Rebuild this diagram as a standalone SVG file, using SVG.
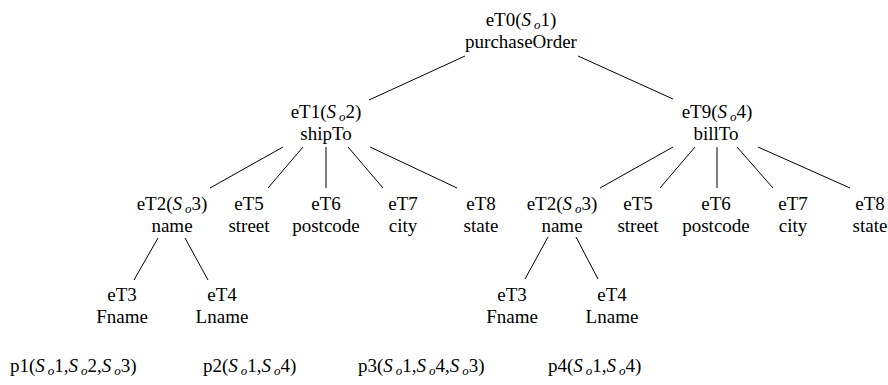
<svg xmlns="http://www.w3.org/2000/svg" width="888" height="385" viewBox="0 0 888 385">
<style>
text{font-size:19px;fill:#000;text-anchor:middle}
.l{text-anchor:start}
.i{font-style:italic}
.s{font-style:italic;font-size:13px}
#edges line{stroke:#000;stroke-width:1}
</style>
<rect width="888" height="385" fill="#fff"/>
<g id="edges">
<line x1="465" y1="56" x2="369" y2="100"/>
<line x1="578" y1="56" x2="673" y2="99"/>
<line x1="283" y1="147" x2="210" y2="188"/>
<line x1="303" y1="147" x2="268" y2="188"/>
<line x1="326" y1="147" x2="326" y2="188"/>
<line x1="348" y1="147" x2="383" y2="188"/>
<line x1="370" y1="147" x2="457" y2="188"/>
<line x1="673" y1="147" x2="600" y2="188"/>
<line x1="695" y1="147" x2="660" y2="188"/>
<line x1="717" y1="147" x2="717" y2="188"/>
<line x1="737" y1="147" x2="773" y2="188"/>
<line x1="758" y1="147" x2="850" y2="188"/>
<line x1="158" y1="238" x2="134" y2="280"/>
<line x1="185" y1="238" x2="208" y2="280"/>
<line x1="548" y1="237" x2="525" y2="279"/>
<line x1="576" y1="237" x2="598" y2="279"/>
</g>
<g font-family="Liberation Serif, DejaVu Serif, serif">
<g id="eT0"><text x="521" y="26">eT0(<tspan class="i">S</tspan><tspan class="s" dx="3" dy="3">o</tspan><tspan dy="-3">1)</tspan></text><text x="521" y="48">purchaseOrder</text></g>
<g id="eT1"><text x="326" y="118">eT1(<tspan class="i">S</tspan><tspan class="s" dx="3" dy="3">o</tspan><tspan dy="-3">2)</tspan></text><text x="326" y="140">shipTo</text></g>
<g id="eT9"><text x="717" y="118">eT9(<tspan class="i">S</tspan><tspan class="s" dx="3" dy="3">o</tspan><tspan dy="-3">4)</tspan></text><text x="716" y="140">billTo</text></g>
<g id="L-eT2"><text x="172" y="210">eT2(<tspan class="i">S</tspan><tspan class="s" dx="3" dy="3">o</tspan><tspan dy="-3">3)</tspan></text><text x="172" y="232">name</text></g>
<g id="L-eT5"><text x="249" y="210">eT5</text><text x="249" y="232">street</text></g>
<g id="L-eT6"><text x="326" y="210">eT6</text><text x="326" y="232">postcode</text></g>
<g id="L-eT7"><text x="403" y="210">eT7</text><text x="403" y="232">city</text></g>
<g id="L-eT8"><text x="481" y="210">eT8</text><text x="481" y="232">state</text></g>
<g id="L-eT3"><text x="122" y="301">eT3</text><text x="122" y="323">Fname</text></g>
<g id="L-eT4"><text x="222" y="301">eT4</text><text x="222" y="323">Lname</text></g>
<g id="R-eT2"><text x="562" y="210">eT2(<tspan class="i">S</tspan><tspan class="s" dx="3" dy="3">o</tspan><tspan dy="-3">3)</tspan></text><text x="562" y="232">name</text></g>
<g id="R-eT5"><text x="638" y="210">eT5</text><text x="638" y="232">street</text></g>
<g id="R-eT6"><text x="716" y="210">eT6</text><text x="716" y="232">postcode</text></g>
<g id="R-eT7"><text x="793" y="210">eT7</text><text x="793" y="232">city</text></g>
<g id="R-eT8"><text x="870" y="210">eT8</text><text x="870" y="232">state</text></g>
<g id="R-eT3"><text x="512" y="301">eT3</text><text x="512" y="323">Fname</text></g>
<g id="R-eT4"><text x="612" y="301">eT4</text><text x="612" y="323">Lname</text></g>
<g id="paths">
<text class="l" x="10" y="372">p1(<tspan class="i">S</tspan><tspan class="s" dx="3" dy="3">o</tspan><tspan dy="-3">1,</tspan><tspan class="i">S</tspan><tspan class="s" dx="3" dy="3">o</tspan><tspan dy="-3">2,</tspan><tspan class="i">S</tspan><tspan class="s" dx="3" dy="3">o</tspan><tspan dy="-3">3)</tspan></text>
<text class="l" x="203" y="372">p2(<tspan class="i">S</tspan><tspan class="s" dx="3" dy="3">o</tspan><tspan dy="-3">1,</tspan><tspan class="i">S</tspan><tspan class="s" dx="3" dy="3">o</tspan><tspan dy="-3">4)</tspan></text>
<text class="l" x="358" y="372">p3(<tspan class="i">S</tspan><tspan class="s" dx="3" dy="3">o</tspan><tspan dy="-3">1,</tspan><tspan class="i">S</tspan><tspan class="s" dx="3" dy="3">o</tspan><tspan dy="-3">4,</tspan><tspan class="i">S</tspan><tspan class="s" dx="3" dy="3">o</tspan><tspan dy="-3">3)</tspan></text>
<text class="l" x="548" y="372">p4(<tspan class="i">S</tspan><tspan class="s" dx="3" dy="3">o</tspan><tspan dy="-3">1,</tspan><tspan class="i">S</tspan><tspan class="s" dx="3" dy="3">o</tspan><tspan dy="-3">4)</tspan></text>
</g>
</g>
</svg>
